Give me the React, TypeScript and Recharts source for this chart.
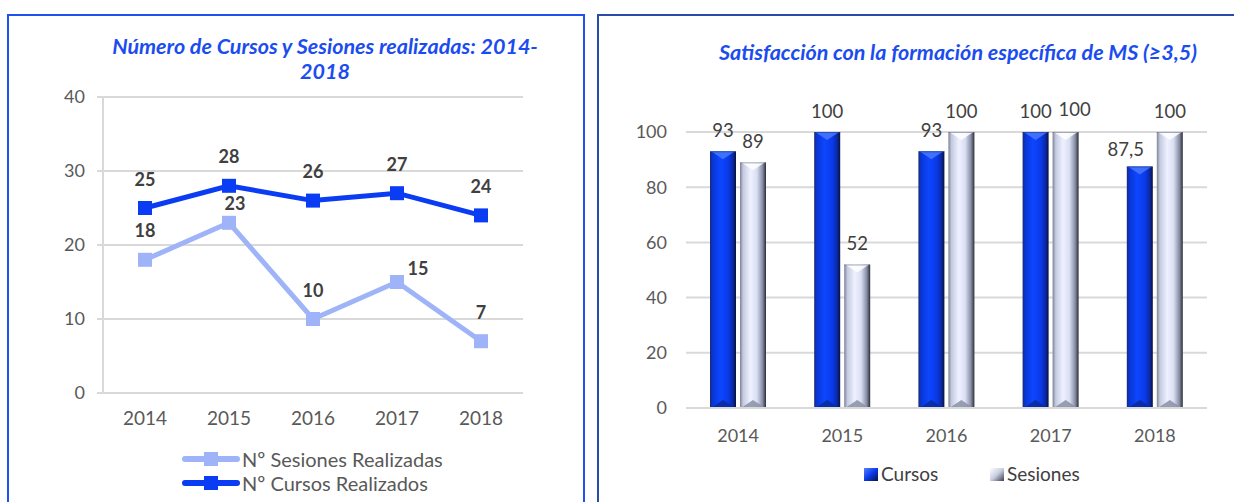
import React from 'react';
import { LineChart, Line, XAxis, YAxis, CartesianGrid, LabelList, BarChart, Bar } from 'recharts';

// ---------- Data: left chart ----------
const years = ['2014', '2015', '2016', '2017', '2018'];
const cursosRealizados = [25, 28, 26, 27, 24];
const sesionesRealizadas = [18, 23, 10, 15, 7];
const lineTicks = [0, 10, 20, 30, 40];
const lineTitle = ['Número de Cursos y Sesiones realizadas: 2014-', '2018'];
const sesionesName = 'Nº Sesiones Realizadas';
const cursosName = 'Nº Cursos Realizados';

// ---------- Data: right chart ----------
const satisfCursos = [93, 100, 93, 100, 87.5];
const satisfSesiones = [89, 52, 100, 100, 100];
const barTicks = [0, 20, 40, 60, 80, 100];
const barTitle = 'Satisfacción con la formación específica de MS (≥3,5)';
const barCursosName = 'Cursos';
const barSesionesName = 'Sesiones';

// ---------- Styles ----------
const FONT = 'Lato, "Open Sans", sans-serif';
const CURSOS_COLOR = '#0a3cf4';
const SESIONES_COLOR = '#9fb4f8';
const TITLE_COLOR = '#1b4cf0';
const AXIS_TEXT = '#595959';
const LABEL_TEXT = '#404040';
const GRID = '#d9d9d9';

// label nudges (style only)
const sesionesLabelNudge: Record<number, [number, number]> = { 1: [6, 10], 3: [21, 15] };
const barCursosLabelNudge: Record<number, [number, number]> = { 4: [-14, 4] };
const barSesionesLabelNudge: Record<number, [number, number]> = { 3: [9, -2] };

const lineData = years.map((y, i) => ({ year: y, cursos: cursosRealizados[i], sesiones: sesionesRealizadas[i] }));
const barData = years.map((y, i) => ({ year: y, cursos: satisfCursos[i], sesiones: satisfSesiones[i] }));

const SquareDot = (color: string) => (props: any) => {
  const { cx, cy } = props;
  if (cx == null || cy == null) return null;
  return <rect x={cx - 7} y={cy - 7} width={14} height={14} fill={color} />;
};

const lineLabel = (nudge: Record<number, [number, number]>) => (props: any) => {
  const { x, y, value, index } = props;
  const n = nudge[index] || [0, 0];
  return (
    <text
      x={x + n[0]}
      y={y - 29 + n[1] + 6.5}
      textAnchor="middle"
      fontFamily={FONT}
      fontWeight={700}
      fontSize={18}
      fill={LABEL_TEXT}
    >
      {value}
    </text>
  );
};

const barLabel = (nudge: Record<number, [number, number]>) => (props: any) => {
  const { x, y, width, value, index } = props;
  const n = nudge[index] || [0, 0];
  return (
    <text
      x={x + width / 2 + n[0]}
      y={y - 21 + n[1] + 6.5}
      textAnchor="middle"
      fontFamily={FONT}
      fontSize={18.5}
      fill={LABEL_TEXT}
    >
      {String(value).replace('.', ',')}
    </text>
  );
};

const BevelBar = (kind: 'c' | 's') => (props: any) => {
  const { x, y, width, height } = props;
  if (!height || height <= 0) return null;
  const b = Math.min(8, height / 2);
  const top = kind === 'c' ? '#4a78ff' : '#ffffff';
  const bottom = kind === 'c' ? '#0a2a9a' : '#8a90a4';
  const edge = kind === 'c' ? '#1e3a8a' : '#6a7088';
  return (
    <g>
      <rect x={x} y={y} width={width} height={height} fill={`url(#grad-${kind})`} />
      <polygon
        points={`${x + 1},${y} ${x + width - 1},${y} ${x + width / 2},${y + b}`}
        fill={top}
        opacity={0.85}
      />
      <polygon
        points={`${x + 1},${y + height} ${x + width - 1},${y + height} ${x + width / 2},${y + height - b}`}
        fill={bottom}
        opacity={0.85}
      />
      <line x1={x} y1={y + 0.5} x2={x + width} y2={y + 0.5} stroke={edge} strokeWidth={1} opacity={0.6} />
    </g>
  );
};

const Gradients = () => (
  <defs>
    <linearGradient id="grad-c" x1="0" y1="0" x2="1" y2="0">
      <stop offset="0%" stopColor="#1a2a70" />
      <stop offset="10%" stopColor="#0836d6" />
      <stop offset="40%" stopColor="#0d46ff" />
      <stop offset="70%" stopColor="#0a3ae8" />
      <stop offset="88%" stopColor="#0a28a8" />
      <stop offset="100%" stopColor="#0a1238" />
    </linearGradient>
    <linearGradient id="grad-s" x1="0" y1="0" x2="1" y2="0">
      <stop offset="0%" stopColor="#7c8196" />
      <stop offset="12%" stopColor="#c4cadf" />
      <stop offset="40%" stopColor="#eef1ff" />
      <stop offset="65%" stopColor="#d9def2" />
      <stop offset="87%" stopColor="#868da3" />
      <stop offset="100%" stopColor="#2a2d38" />
    </linearGradient>
  </defs>
);

const LegendLine = ({ color, label, top }: { color: string; label: string; top: number }) => (
  <div style={{ position: 'absolute', left: 182, top: top - 12, height: 24, display: 'flex', alignItems: 'center' }}>
    <svg width={58} height={24}>
      <line x1={3} y1={12} x2={55} y2={12} stroke={color} strokeWidth={6} strokeLinecap="round" />
      <rect x={22} y={5} width={14} height={14} fill={color} />
    </svg>
    <span style={{ fontFamily: FONT, fontSize: 20, color: AXIS_TEXT, marginLeft: 2, lineHeight: '24px' }}>{label}</span>
  </div>
);

const LegendBox = ({ kind, label, left }: { kind: 'c' | 's'; label: string; left: number }) => (
  <div style={{ position: 'absolute', left, top: 462, height: 24, display: 'flex', alignItems: 'center' }}>
    <svg width={15} height={15}>
      <defs>
        <linearGradient id={`lg-${kind}`} x1="0" y1="0" x2="1" y2="1">
          <stop offset="0%" stopColor={kind === 'c' ? '#5a80ff' : '#ffffff'} />
          <stop offset="50%" stopColor={kind === 'c' ? '#0a3ae8' : '#c8cde0'} />
          <stop offset="100%" stopColor={kind === 'c' ? '#0a1440' : '#3a3e4a'} />
        </linearGradient>
      </defs>
      <rect x={0} y={1} width={14} height={13} fill={`url(#lg-${kind})`} />
    </svg>
    <span style={{ fontFamily: FONT, fontSize: 19, color: LABEL_TEXT, marginLeft: 2, lineHeight: '24px' }}>{label}</span>
  </div>
);

export default function App() {
  return (
    <div style={{ position: 'absolute', left: 0, top: 0, width: 1234, height: 502, overflow: 'hidden', background: '#fff', fontFamily: FONT }}>
      {/* Panel borders */}
      <div style={{ position: 'absolute', left: 7, top: 14, width: 578, height: 520, border: '2px solid #1f50f0', boxSizing: 'border-box' }} />
      <div style={{ position: 'absolute', left: 597, top: 14, width: 660, height: 520, border: '2px solid #2c4aa8', boxSizing: 'border-box' }} />

      {/* Left title */}
      <div style={{ position: 'absolute', left: 0, top: 34, width: 650, textAlign: 'center', fontFamily: FONT, fontWeight: 700, fontStyle: 'italic', fontSize: 21.5, color: TITLE_COLOR, lineHeight: '25px' }}>
        {lineTitle[0]}
        <br />
        {lineTitle[1]}
      </div>

      {/* Left chart */}
      <div style={{ position: 'absolute', left: 0, top: 0 }}>
        <LineChart width={584} height={502} data={lineData} margin={{ top: 97, right: 61, bottom: 69, left: 40 }}>
          <CartesianGrid horizontal vertical={false} stroke={GRID} strokeWidth={2} />
          <XAxis
            dataKey="year"
            padding={{ left: 42, right: 42 }}
            height={40}
            axisLine={false}
            tickLine={false}
            tickSize={0}
            tickMargin={19}
            tick={{ fontFamily: FONT, fontSize: 19, fill: AXIS_TEXT }}
          />
          <YAxis
            domain={[0, 40]}
            ticks={lineTicks}
            width={63}
            axisLine={{ stroke: GRID, strokeWidth: 2 }}
            tickLine={{ stroke: GRID, strokeWidth: 2 }}
            tickSize={6}
            tickMargin={12}
            tick={{ fontFamily: FONT, fontSize: 18, fill: AXIS_TEXT }}
          />
          <Line
            dataKey="sesiones"
            name={sesionesName}
            stroke={SESIONES_COLOR}
            strokeWidth={5}
            dot={SquareDot(SESIONES_COLOR)}
            isAnimationActive={false}
          >
            <LabelList dataKey="sesiones" content={lineLabel(sesionesLabelNudge)} />
          </Line>
          <Line
            dataKey="cursos"
            name={cursosName}
            stroke={CURSOS_COLOR}
            strokeWidth={5}
            dot={SquareDot(CURSOS_COLOR)}
            isAnimationActive={false}
          >
            <LabelList dataKey="cursos" content={lineLabel({})} />
          </Line>
        </LineChart>
      </div>

      <LegendLine color={SESIONES_COLOR} label={sesionesName} top={459} />
      <LegendLine color={CURSOS_COLOR} label={cursosName} top={483} />

      {/* Right title */}
      <div style={{ position: 'absolute', left: 658, top: 40, width: 600, textAlign: 'center', fontFamily: FONT, fontWeight: 700, fontStyle: 'italic', fontSize: 21.5, color: TITLE_COLOR, lineHeight: '25px' }}>
        {barTitle}
      </div>

      {/* Right chart */}
      <div style={{ position: 'absolute', left: 598, top: 0 }}>
        <BarChart
          width={636}
          height={502}
          data={barData}
          margin={{ top: 132, right: 27, bottom: 64, left: 30 }}
          barCategoryGap={24}
          barGap={4}
        >
          <Gradients />
          <CartesianGrid horizontal vertical={false} stroke={GRID} strokeWidth={2} />
          <XAxis
            dataKey="year"
            height={30}
            axisLine={{ stroke: GRID, strokeWidth: 2 }}
            tickLine={false}
            tickSize={0}
            tickMargin={21}
            tick={{ fontFamily: FONT, fontSize: 18, fill: AXIS_TEXT }}
          />
          <YAxis
            domain={[0, 100]}
            ticks={barTicks}
            width={58}
            axisLine={false}
            tickLine={false}
            tickSize={0}
            tickMargin={19}
            tick={{ fontFamily: FONT, fontSize: 18, fill: AXIS_TEXT }}
          />
          <Bar dataKey="cursos" name={barCursosName} barSize={26} shape={BevelBar('c')} isAnimationActive={false}>
            <LabelList dataKey="cursos" content={barLabel(barCursosLabelNudge)} />
          </Bar>
          <Bar dataKey="sesiones" name={barSesionesName} barSize={26} shape={BevelBar('s')} isAnimationActive={false}>
            <LabelList dataKey="sesiones" content={barLabel(barSesionesLabelNudge)} />
          </Bar>
        </BarChart>
      </div>

      <LegendBox kind="c" label={barCursosName} left={864} />
      <LegendBox kind="s" label={barSesionesName} left={990} />
    </div>
  );
}
